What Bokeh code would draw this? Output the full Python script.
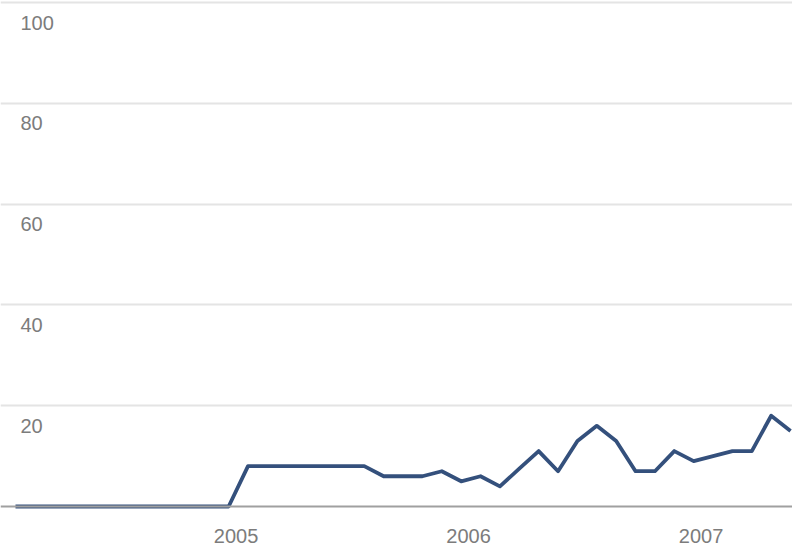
from bokeh.plotting import figure
from bokeh.models import Range1d, FixedTicker, Span
from bokeh.core.properties import value
from bokeh.embed import file_html
from bokeh.resources import INLINE

# month index since Jan 2004
months = list(range(41))
interest = [0, 0, 0, 0, 0, 0, 0, 0, 0, 0, 0, 0,
            8, 8, 8, 8, 8, 8, 8,
            6, 6, 6, 7, 5, 6, 4, 7.5, 11, 7, 13, 16, 13, 7, 7, 11, 9, 10, 11, 11, 18, 15]

y_ticks = [20, 40, 60, 80, 100]
y_tick_labels = ["20", "40", "60", "80", "100"]
year_pos = [12, 24, 36]
year_labels = ["2005", "2006", "2007"]

p = figure(width=792, height=548, output_backend="svg", toolbar_location=None,
           x_range=Range1d(-0.774, 40.10), y_range=Range1d(-8.333, 100.40),
           x_axis_location=None, y_axis_location=None,
           min_border=0, outline_line_color=None)
p.background_fill_color = "white"
p.border_fill_color = "white"

p.xgrid.visible = False
p.ygrid.ticker = FixedTicker(ticks=y_ticks)
p.ygrid.grid_line_color = "#e4e4e4"
p.ygrid.grid_line_width = 2

p.add_layout(Span(location=0, dimension="width", line_color="#a0a0a0", line_width=2))

p.line(months, interest, line_color="#34507c", line_width=3.8, line_join="round")

p.text(x=[0] * len(y_ticks), y=y_ticks, text=y_tick_labels, x_offset=5, y_offset=20,
       text_align="left", text_baseline="middle", text_color="#7c7c7c",
       text_font=value("Liberation Sans"), text_font_size="20px")

p.text(x=year_pos, y=[0] * len(year_pos), text=year_labels, x_offset=-12, y_offset=29,
       text_align="center", text_baseline="middle", text_color="#7c7c7c",
       text_font=value("Liberation Sans"), text_font_size="20px")

open("out.html", "w").write(file_html(p, INLINE))
